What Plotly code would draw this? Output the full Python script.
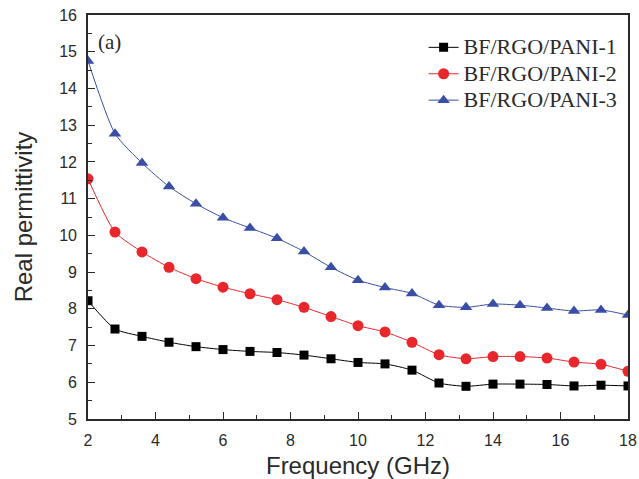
import plotly.graph_objects as go

freq = [2.0, 2.8, 3.6, 4.4, 5.2, 6.0, 6.8, 7.6, 8.4, 9.2, 10.0, 10.8, 11.6, 12.4, 13.2, 14.0, 14.8, 15.6, 16.4, 17.2, 18.0]
pani1 = [8.22, 7.45, 7.25, 7.09, 6.97, 6.89, 6.84, 6.81, 6.74, 6.64, 6.54, 6.50, 6.33, 5.98, 5.89, 5.95, 5.95, 5.94, 5.90, 5.92, 5.90]
pani2 = [11.54, 10.09, 9.55, 9.13, 8.82, 8.59, 8.41, 8.25, 8.04, 7.79, 7.54, 7.37, 7.09, 6.75, 6.64, 6.70, 6.70, 6.66, 6.55, 6.49, 6.30]
pani3 = [14.75, 12.77, 11.97, 11.33, 10.86, 10.48, 10.20, 9.92, 9.56, 9.13, 8.78, 8.58, 8.42, 8.10, 8.04, 8.13, 8.10, 8.02, 7.94, 7.97, 7.83]

names = ["BF/RGO/PANI-1", "BF/RGO/PANI-2", "BF/RGO/PANI-3"]
series = [pani1, pani2, pani3]
colors = ["#000000", "#e8262b", "#3a4ea6"]
symbols = ["square", "circle", "triangle-up"]
sizes = [9, 11, 11]

fig = go.Figure()
for n, s, c, sym, sz in zip(names, series, colors, symbols, sizes):
    fig.add_trace(go.Scatter(
        x=freq, y=s, name='<span style="font-size:22px">' + n + '</span>',
        mode="lines+markers",
        line=dict(color=c, width=1, shape="spline", smoothing=0.6),
        marker=dict(symbol=sym, size=sz, color=c),
    ))

sans = "Liberation Sans, Arial, sans-serif"
serif = "Liberation Serif, Times New Roman, serif"

axis_common = dict(
    showline=True, linecolor="#2a2a2a", linewidth=1.6, mirror=True,
    ticks="inside", ticklen=7, tickwidth=1.3, tickcolor="#2a2a2a",
    showgrid=False, zeroline=False, automargin=False,
    tickfont=dict(family=sans, size=16, color="#2a2a2a"),
    ticklabelstandoff=6, ticklabeloverflow="allow",
)

fig.update_xaxes(
    range=[2, 18], tick0=2, dtick=2,
    minor=dict(dtick=1, ticks="inside", ticklen=4, tickcolor="#2a2a2a", tickwidth=1.2, showgrid=False),
    title=dict(text="Frequency (GHz)", font=dict(family=sans, size=24, color="#2a2a2a"), standoff=14),
    **axis_common,
)
fig.update_yaxes(
    range=[5, 16], tick0=5, dtick=1,
    minor=dict(dtick=0.5, ticks="inside", ticklen=4, tickcolor="#2a2a2a", tickwidth=1.2, showgrid=False),
    title=dict(text="Real permittivity", font=dict(family=sans, size=24, color="#2a2a2a"), standoff=20),
    **axis_common,
)

fig.add_annotation(
    x=2.25, y=15.27, xref="x", yref="y", text="(a)", showarrow=False,
    xanchor="left", yanchor="middle",
    font=dict(family=serif, size=21, color="#2a2a2a"),
)

fig.update_layout(
    width=639, height=479,
    margin=dict(l=88, r=11, t=15, b=60, autoexpand=False),
    paper_bgcolor="white", plot_bgcolor="white",
    showlegend=True,
    legend=dict(
        x=0.99, y=0.965, xanchor="right", yanchor="top",
        bgcolor="rgba(0,0,0,0)",
        font=dict(family=serif, size=18, color="#2a2a2a"),
        tracegroupgap=0, itemwidth=30,
    ),
)

fig.write_html(
    "out.html",
    config={"displayModeBar": False},
    post_script="document.body.style.margin='0px';document.body.style.overflow='hidden';",
)
